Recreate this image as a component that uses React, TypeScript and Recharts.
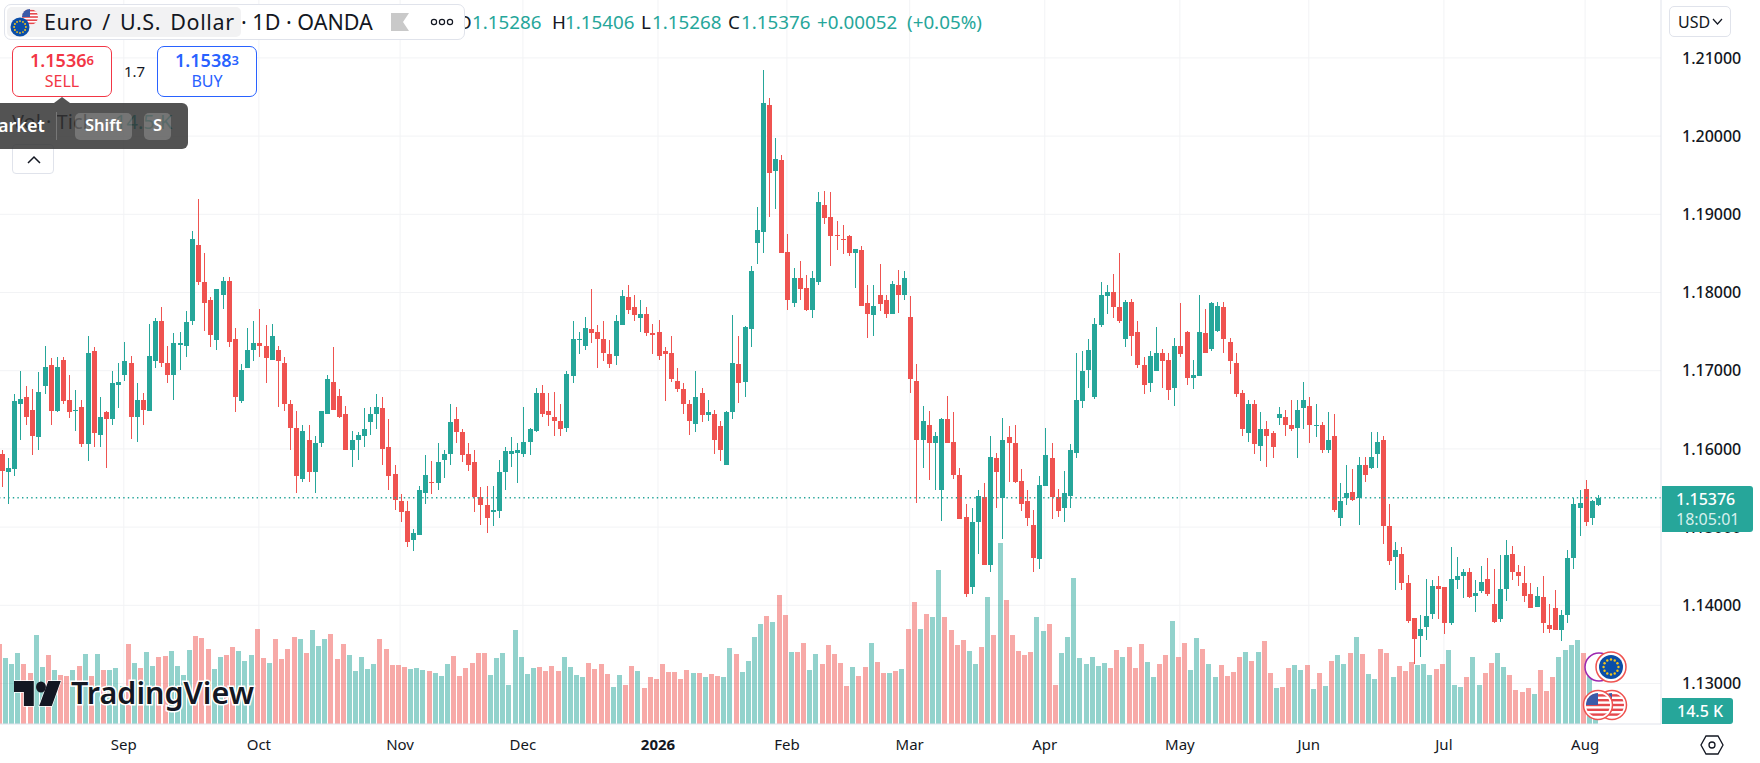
import React from "react";
import { ComposedChart, Bar, XAxis, YAxis, CartesianGrid, ReferenceLine } from "recharts";

const opens = [
1.1593,1.1570,1.1574,1.1657,1.1666,1.1650,1.1615,1.1680,1.1707,1.1649,
1.1714,1.1662,1.1648,1.1654,1.1606,1.1725,1.1618,1.1647,1.1638,1.1682,
1.1695,1.1710,1.1641,1.1663,1.1649,1.1713,1.1763,1.1710,1.1695,1.1733,
1.1732,1.1763,1.1861,1.1814,1.1790,1.1739,1.1797,1.1815,1.1740,1.1661,
1.1703,1.1727,1.1736,1.1732,1.1714,1.1727,1.1710,1.1658,1.1627,1.1561,
1.1612,1.1570,1.1607,1.1645,1.1686,1.1668,1.1644,1.1599,1.1612,1.1616,
1.1635,1.1645,1.1652,1.1602,1.1568,1.1533,1.1521,1.1483,1.1490,1.1544,
1.1558,1.1556,1.1586,1.1593,1.1638,1.1621,1.1593,1.1583,1.1539,1.1528,
1.1519,1.1521,1.1570,1.1593,1.1595,1.1593,1.1609,1.1623,1.1672,1.1648,
1.1641,1.1636,1.1627,1.1693,1.1739,1.1732,1.1753,1.1749,1.1741,1.1721,
1.1719,1.1758,1.1794,1.1781,1.1768,1.1772,1.1748,1.1750,1.1725,1.1722,
1.1687,1.1676,1.1658,1.1632,1.1671,1.1643,1.1644,1.1629,1.1580,1.1647,
1.1708,1.1686,1.1753,1.1863,1.1877,1.2040,1.1956,1.1970,1.1852,1.1787,
1.1819,1.1806,1.1777,1.1813,1.1912,1.1896,1.1873,1.1869,1.1872,1.1850,
1.1854,1.1786,1.1771,1.1797,1.1790,1.1773,1.1810,1.1797,1.1769,1.1687,
1.1612,1.1631,1.1608,1.1548,1.1638,1.1609,1.1567,1.1513,1.1423,1.1506,
1.1539,1.1451,1.1589,1.1537,1.1615,1.1607,1.1559,1.1533,1.1503,1.1459,
1.1553,1.1589,1.1539,1.1524,1.1540,1.1595,1.1661,1.1701,1.1666,1.1758,
1.1796,1.1801,1.1781,1.1740,1.1788,1.1749,1.1707,1.1684,1.1699,1.1723,
1.1714,1.1678,1.1731,1.1749,1.1691,1.1693,1.1748,1.1728,1.1751,1.1782,
1.1737,1.1710,1.1671,1.1620,1.1657,1.1604,1.1625,1.1620,1.1639,1.1641,
1.1630,1.1627,1.1652,1.1655,1.1630,1.1631,1.1599,1.1616,1.1511,1.1537,
1.1545,1.1537,1.1579,1.1575,1.1593,1.1611,1.1502,1.1462,1.1465,1.1428,
1.1384,1.1361,1.1372,1.1389,1.1425,1.1423,1.1377,1.1432,1.1438,1.1442,
1.1412,1.1418,1.1433,1.1402,1.1383,1.1421,1.1465,1.1442,1.1428,1.1415,
1.1398,1.1411,1.1375,1.1396,1.1368,1.1387,1.1460,1.1525,1.1549,1.1511,1.15286];

const highs = [
1.1598,1.1589,1.1670,1.1700,1.1680,1.1676,1.1698,1.1731,1.1716,1.1717,
1.1717,1.1694,1.1675,1.1663,1.1744,1.1730,1.1666,1.1649,1.1699,1.1710,
1.1737,1.1719,1.1684,1.1671,1.1760,1.1767,1.1781,1.1732,1.1748,1.1749,
1.1776,1.1879,1.1920,1.1850,1.1794,1.1804,1.1820,1.1820,1.1755,1.1708,
1.1755,1.1763,1.1779,1.1759,1.1760,1.1732,1.1717,1.1662,1.1649,1.1631,
1.1631,1.1616,1.1649,1.1695,1.1730,1.1676,1.1655,1.1623,1.1621,1.1652,
1.1653,1.1670,1.1667,1.1638,1.1579,1.1542,1.1534,1.1498,1.1553,1.1592,
1.1584,1.1607,1.1598,1.1657,1.1654,1.1625,1.1608,1.1598,1.1551,1.1553,
1.1552,1.1586,1.1602,1.1615,1.1608,1.1653,1.1627,1.1678,1.1682,1.1672,
1.1673,1.1658,1.1700,1.1764,1.1750,1.1769,1.1805,1.1759,1.1764,1.1739,
1.1771,1.1803,1.1809,1.1797,1.1790,1.1781,1.1760,1.1765,1.1730,1.1744,
1.1704,1.1684,1.1663,1.1699,1.1678,1.1663,1.1650,1.1636,1.1648,1.1771,
1.1744,1.1757,1.1834,1.1909,1.2084,1.2049,1.1998,1.1976,1.1875,1.1831,
1.1840,1.1823,1.1827,1.1928,1.1930,1.1929,1.1891,1.1886,1.1874,1.1856,
1.1859,1.1809,1.1809,1.1836,1.1797,1.1815,1.1829,1.1828,1.1796,1.1708,
1.1655,1.1648,1.1622,1.1639,1.1668,1.1647,1.1575,1.1530,1.1525,1.1548,
1.1556,1.1617,1.1595,1.1640,1.1629,1.1631,1.1574,1.1548,1.1522,1.1565,
1.1627,1.1607,1.1549,1.1572,1.1606,1.1723,1.1725,1.1740,1.1767,1.1813,
1.1809,1.1824,1.1850,1.1791,1.1792,1.1764,1.1717,1.1725,1.1756,1.1728,
1.1722,1.1742,1.1786,1.1751,1.1714,1.1797,1.1779,1.1788,1.1788,1.1788,
1.1742,1.1722,1.1675,1.1662,1.1663,1.1647,1.1636,1.1623,1.1654,1.1650,
1.1662,1.1662,1.1686,1.1666,1.1657,1.1634,1.1647,1.1645,1.1556,1.1579,
1.1574,1.1590,1.1590,1.1622,1.1621,1.1617,1.1529,1.1481,1.1474,1.1439,
1.1384,1.1388,1.1434,1.1432,1.1437,1.1424,1.1474,1.1462,1.1446,1.1448,
1.1432,1.1450,1.1461,1.1446,1.1464,1.1483,1.1476,1.1452,1.1450,1.1429,
1.1423,1.1437,1.1402,1.1419,1.1394,1.1471,1.1537,1.1548,1.1560,1.1535,1.15406];

const lows = [
1.1551,1.1529,1.1565,1.1612,1.1630,1.1592,1.1599,1.1670,1.1631,1.1647,
1.1657,1.1640,1.1623,1.1602,1.1584,1.1603,1.1603,1.1575,1.1630,1.1652,
1.1687,1.1613,1.1609,1.1631,1.1649,1.1704,1.1705,1.1684,1.1662,1.1701,
1.1717,1.1758,1.1809,1.1751,1.1730,1.1727,1.1779,1.1730,1.1647,1.1659,
1.1703,1.1713,1.1717,1.1684,1.1714,1.1653,1.1649,1.1599,1.1543,1.1558,
1.1558,1.1543,1.1603,1.1644,1.1650,1.1639,1.1598,1.1577,1.1586,1.1602,
1.1618,1.1626,1.1579,1.1548,1.1522,1.1506,1.1474,1.1469,1.1490,1.1530,
1.1542,1.1548,1.1563,1.1580,1.1607,1.1583,1.1572,1.1519,1.1503,1.1492,
1.1502,1.1512,1.1548,1.1577,1.1556,1.1590,1.1592,1.1622,1.1641,1.1629,
1.1617,1.1616,1.1622,1.1684,1.1721,1.1727,1.1736,1.1704,1.1713,1.1703,
1.1707,1.1758,1.1773,1.1763,1.1750,1.1744,1.1721,1.1714,1.1661,1.1685,
1.1673,1.1644,1.1618,1.1622,1.1635,1.1636,1.1594,1.1585,1.1579,1.1638,
1.1659,1.1667,1.1730,1.1836,1.1851,1.1897,1.1907,1.1850,1.1777,1.1781,
1.1791,1.1776,1.1767,1.1810,1.1888,1.1834,1.1854,1.1849,1.1847,1.1806,
1.1783,1.1742,1.1744,1.1776,1.1767,1.1772,1.1774,1.1790,1.1672,1.1531,
1.1575,1.1560,1.1547,1.1508,1.1607,1.1561,1.1510,1.1411,1.1415,1.1466,
1.1451,1.1443,1.1525,1.1485,1.1558,1.1556,1.1520,1.1502,1.1443,1.1447,
1.1553,1.1510,1.1513,1.1506,1.1525,1.1589,1.1652,1.1678,1.1664,1.1756,
1.1773,1.1768,1.1761,1.1730,1.1719,1.1704,1.1670,1.1673,1.1699,1.1678,
1.1662,1.1655,1.1717,1.1682,1.1677,1.1693,1.1723,1.1725,1.1749,1.1723,
1.1696,1.1667,1.1617,1.1609,1.1593,1.1584,1.1577,1.1589,1.1630,1.1617,
1.1623,1.1588,1.1626,1.1608,1.1615,1.1595,1.1595,1.1519,1.1501,1.1528,
1.1534,1.1503,1.1558,1.1574,1.1575,1.1479,1.1452,1.1419,1.1419,1.1377,
1.1325,1.1334,1.1355,1.1382,1.1383,1.1363,1.1375,1.1421,1.1409,1.1409,
1.1392,1.1416,1.1412,1.1378,1.1379,1.1406,1.1432,1.1425,1.1404,1.1397,
1.1398,1.1364,1.1365,1.1368,1.1354,1.1377,1.1446,1.1488,1.1501,1.1503,1.15268];

const closes = [
1.1572,1.1576,1.1661,1.1664,1.1641,1.1616,1.1673,1.1705,1.1648,1.1705,
1.1661,1.1647,1.1650,1.1606,1.1723,1.1620,1.1641,1.1638,1.1684,1.1686,
1.1712,1.1641,1.1662,1.1650,1.1719,1.1764,1.1710,1.1694,1.1736,1.1736,
1.1762,1.1868,1.1813,1.1786,1.1746,1.1804,1.1815,1.1737,1.1666,1.1701,
1.1727,1.1735,1.1731,1.1716,1.1744,1.1713,1.1658,1.1627,1.1565,1.1623,
1.1570,1.1608,1.1648,1.1689,1.1650,1.1641,1.1599,1.1611,1.1618,1.1626,
1.1645,1.1653,1.1600,1.1565,1.1535,1.1519,1.1481,1.1493,1.1548,1.1567,
1.1557,1.1583,1.1594,1.1635,1.1621,1.1592,1.1580,1.1538,1.1528,1.1512,
1.1522,1.1570,1.1597,1.1597,1.1599,1.1609,1.1626,1.1672,1.1644,1.1643,
1.1636,1.1626,1.1696,1.1740,1.1741,1.1755,1.1748,1.1740,1.1723,1.1709,
1.1763,1.1795,1.1777,1.1771,1.1773,1.1748,1.1746,1.1719,1.1721,1.1689,
1.1676,1.1658,1.1636,1.1667,1.1643,1.1647,1.1612,1.1598,1.1647,1.1710,
1.1684,1.1756,1.1828,1.1880,1.2042,1.1953,1.1971,1.1850,1.1790,1.1819,
1.1805,1.1778,1.1818,1.1916,1.1895,1.1872,1.1872,1.1868,1.1851,1.1855,
1.1783,1.1772,1.1783,1.1785,1.1773,1.1811,1.1797,1.1818,1.1690,1.1612,
1.1636,1.1608,1.1617,1.1638,1.1608,1.1566,1.1510,1.1415,1.1506,1.1540,
1.1451,1.1590,1.1571,1.1612,1.1607,1.1558,1.1529,1.1511,1.1461,1.1554,
1.1592,1.1539,1.1521,1.1544,1.1598,1.1663,1.1700,1.1726,1.1760,1.1797,
1.1800,1.1782,1.1763,1.1788,1.1744,1.1707,1.1682,1.1719,1.1722,1.1712,
1.1675,1.1732,1.1721,1.1691,1.1694,1.1749,1.1723,1.1786,1.1783,1.1740,
1.1713,1.1670,1.1625,1.1657,1.1606,1.1626,1.1617,1.1602,1.1644,1.1631,
1.1625,1.1650,1.1663,1.1631,1.1631,1.1598,1.1612,1.1522,1.1533,1.1544,
1.1535,1.1580,1.1566,1.1590,1.1609,1.1501,1.1457,1.1471,1.1428,1.1380,
1.1357,1.1370,1.1386,1.1425,1.1421,1.1378,1.1434,1.1438,1.1442,1.1411,
1.1416,1.1430,1.1414,1.1379,1.1421,1.1464,1.1442,1.1438,1.1412,1.1397,
1.1412,1.1377,1.1370,1.1368,1.1387,1.1460,1.1529,1.1531,1.1507,1.1533,1.15376];

const volumesK = [
89,74,67,79,67,57,99,64,77,60,
55,54,60,65,78,54,78,60,60,62,
42,89,68,62,80,65,75,76,81,65,
55,83,98,96,84,61,75,77,86,81,
70,77,106,74,68,95,72,84,97,95,
79,105,87,95,100,72,89,77,59,75,
61,67,95,84,66,66,64,61,62,60,
59,57,54,67,76,54,62,68,79,79,
55,74,79,44,105,75,56,62,64,59,
65,59,75,64,55,52,68,61,67,56,
41,55,43,65,59,40,52,50,67,58,
58,50,60,57,57,52,56,54,52,85,
78,58,70,97,112,120,114,144,122,80,
80,90,60,78,67,88,78,68,42,64,
54,64,90,69,57,57,59,61,106,136,
106,123,119,172,119,105,88,94,81,67,
86,142,99,202,138,99,81,77,80,119,
104,112,44,79,97,163,74,67,75,65,
68,62,83,75,86,62,89,69,52,67,
77,115,75,90,60,96,84,67,52,66,
54,58,75,80,70,80,93,57,40,41,
62,66,60,66,39,57,42,70,77,67,
79,97,78,56,50,84,79,52,65,59,
69,66,67,55,61,67,83,44,41,52,
75,43,57,68,79,64,55,38,36,40,
34,60,37,52,75,83,88,94,79,71,14.5];

const priceTicks = [1.13, 1.14, 1.15, 1.16, 1.17, 1.18, 1.19, 1.2, 1.21];
const monthTicks = [20, 42, 65, 85, 107, 128, 148, 170, 192, 213, 235, 258];
const monthLabels = ["Sep", "Oct", "Nov", "Dec", "2026", "Feb", "Mar", "Apr", "May", "Jun", "Jul", "Aug"];
const lastPrice = 1.15376;

const rows = opens.map((o, i) => ({
  i, o, h: highs[i], l: lows[i], c: closes[i], v: volumesK[i], range: [lows[i], highs[i]],
}));

const UP = "#26a69a";
const DOWN = "#ef5350";
const FONT = "'Noto Sans', 'Open Sans', sans-serif";

function Candle(props: any) {
  const { x, y, width, height, payload } = props;
  const { o, h, l, c } = payload;
  const color = c >= o ? UP : DOWN;
  const k = h > l ? height / (h - l) : 0;
  const top = Math.round(y + (h - Math.max(o, c)) * k);
  const bot = Math.round(y + (h - Math.min(o, c)) * k);
  const left = Math.round(x + width / 2 - 2.5);
  return (
    <g shapeRendering="crispEdges">
      <rect x={left + 2} y={y} width={1} height={Math.max(height, 1)} fill={color} />
      <rect x={left} y={top} width={5} height={Math.max(bot - top, 1)} fill={color} />
    </g>
  );
}

function VolumeBar(props: any) {
  const { x, y, width, height, payload } = props;
  const color = payload.c >= payload.o ? "rgba(38,166,154,0.5)" : "rgba(239,83,80,0.5)";
  return <rect x={Math.round(x + width / 2 - 2.5)} y={y} width={5} height={height} fill={color} shapeRendering="crispEdges" />;
}

function MonthTick(props: any) {
  const { x, payload } = props;
  const label = monthLabels[monthTicks.indexOf(payload.value)];
  return (
    <text x={x} y={750} textAnchor="middle" fontFamily={FONT} fontSize={15} fontWeight={label === "2026" ? 700 : 400} fill="#131722">
      {label}
    </text>
  );
}

const box: React.CSSProperties = { position: "absolute", boxSizing: "border-box", fontFamily: FONT, whiteSpace: "nowrap" };

function Txt({ x, y, size, color, weight, children, w, align, extra }: any) {
  return (
    <div style={{ ...box, left: x, top: y, fontSize: size, color, fontWeight: weight || 400, lineHeight: 1, width: w, textAlign: align, ...extra }}>
      {children}
    </div>
  );
}

function EuFlag({ cx, cy, r }: any) {
  const stars = [0, 1, 2, 3, 4, 5, 6, 7, 8, 9, 10, 11];
  return (
    <g>
      <circle cx={cx} cy={cy} r={r} fill="#0a4ea8" />
      {stars.map((s) => (
        <circle key={s} cx={cx + Math.cos((s * Math.PI) / 6) * r * 0.62} cy={cy + Math.sin((s * Math.PI) / 6) * r * 0.62} r={r * 0.1} fill="#f5c518" />
      ))}
    </g>
  );
}

function UsFlag({ cx, cy, r, id }: any) {
  const stripes = [-0.8, -0.4, 0, 0.4, 0.8];
  return (
    <g>
      <clipPath id={id}>
        <circle cx={cx} cy={cy} r={r} />
      </clipPath>
      <g clipPath={`url(#${id})`}>
        <rect x={cx - r} y={cy - r} width={r * 2} height={r * 2} fill="#fff" />
        {stripes.map((s) => (
          <rect key={s} x={cx - r} y={cy + s * r - r * 0.1} width={r * 2} height={r * 0.2} fill="#e5484d" />
        ))}
        <rect x={cx - r} y={cy - r} width={r} height={r} fill="#3c5aa8" />
      </g>
    </g>
  );
}

export default function App() {
  return (
    <div style={{ position: "fixed", left: 0, top: 0, width: 1760, height: 763, background: "#fff", overflow: "hidden" }}>
      <ComposedChart width={1760} height={763} data={rows} margin={{ top: 0, right: 0, bottom: 0, left: 0 }} barCategoryGap={0} barGap={0}>
        <CartesianGrid stroke="#f2f3f5" horizontalValues={priceTicks} verticalValues={monthTicks} />
        <XAxis
          dataKey="i" type="number" domain={[-0.163, 270.36]} allowDataOverflow ticks={monthTicks} interval={0}
          height={39} tick={<MonthTick />} tickLine={false} axisLine={{ stroke: "#e0e3eb" }}
        />
        <YAxis
          orientation="right" width={99} domain={[1.124821, 1.217404]} allowDataOverflow ticks={priceTicks} interval={0}
          tickFormatter={(v: number) => v.toFixed(5)} tickLine={false} tickMargin={15}
          axisLine={{ stroke: "#e0e3eb" }} tick={{ fontFamily: FONT, fontSize: 16, fontWeight: 500, fill: "#131722" }}
        />
        <YAxis yAxisId="vol" hide domain={[0, 807.3]} allowDataOverflow />
        <Bar yAxisId="vol" dataKey="v" barSize={5} isAnimationActive={false} shape={<VolumeBar />} />
        <ReferenceLine y={lastPrice} stroke={UP} strokeWidth={1.4} strokeDasharray="1.4 3.2" />
        <Bar dataKey="range" barSize={5} isAnimationActive={false} shape={<Candle />} />
      </ComposedChart>

      {/* OHLC legend, its first letter runs under the header box */}
      <Txt x={457} y={13} size={18.8} color="#131722">O</Txt>
      <Txt x={472} y={13} size={18.8} color={UP}>1.15286</Txt>
      <Txt x={552} y={13} size={18.8} color="#131722">H</Txt>
      <Txt x={565} y={13} size={18.8} color={UP}>1.15406</Txt>
      <Txt x={641} y={13} size={18.8} color="#131722">L</Txt>
      <Txt x={652} y={13} size={18.8} color={UP}>1.15268</Txt>
      <Txt x={728} y={13} size={18.8} color="#131722">C</Txt>
      <Txt x={741} y={13} size={18.8} color={UP}>1.15376</Txt>
      <Txt x={817} y={13} size={18.8} color={UP}>+0.00052</Txt>
      <Txt x={907} y={13} size={18.8} color={UP}>(+0.05%)</Txt>

      {/* Header */}
      <div style={{ ...box, left: 4, top: 4, width: 461, height: 36, background: "#fff", border: "1px solid #e0e3eb", borderRadius: 7 }} />
      <div style={{ ...box, left: 7, top: 7, width: 234, height: 30, background: "#f2f2f3", borderRadius: 5 }} />
      <svg style={{ position: "absolute", left: 0, top: 0 }} width={60} height={42}>
        <UsFlag cx={30} cy={17} r={8} id="usHead" />
        <EuFlag cx={20} cy={27} r={9.5} />
      </svg>
      <Txt x={44} y={11} size={21.5} color="#131722" extra={{ letterSpacing: 0.6, wordSpacing: 3 }}>Euro / U.S. Dollar</Txt>
      <Txt x={241} y={11} size={21.5} color="#131722">· 1D · OANDA</Txt>
      <svg style={{ position: "absolute", left: 390, top: 12 }} width={70} height={22}>
        <path d="M1 1H19L13 10L19 19H1Z" fill="#c9c9c9" />
        <circle cx={44} cy={10} r={2.6} fill="none" stroke="#131722" strokeWidth={1.2} />
        <circle cx={52} cy={10} r={2.6} fill="none" stroke="#131722" strokeWidth={1.2} />
        <circle cx={60} cy={10} r={2.6} fill="none" stroke="#131722" strokeWidth={1.2} />
      </svg>

      {/* Sell / Buy */}
      <div style={{ ...box, left: 12, top: 46, width: 100, height: 51, background: "#fff", border: "1px solid #f23645", borderRadius: 7 }} />
      <Txt x={12} y={51} w={100} align="center" size={18} weight={600} color="#f23645">1.1536<span style={{ fontSize: 13, verticalAlign: 2 }}>6</span></Txt>
      <Txt x={12} y={73} w={100} align="center" size={16} color="#f23645">SELL</Txt>
      <Txt x={124} y={64} size={15} color="#131722">1.7</Txt>
      <div style={{ ...box, left: 157, top: 46, width: 100, height: 51, background: "#fff", border: "1px solid #2962ff", borderRadius: 7 }} />
      <Txt x={157} y={51} w={100} align="center" size={18} weight={600} color="#2962ff">1.1538<span style={{ fontSize: 13, verticalAlign: 2 }}>3</span></Txt>
      <Txt x={157} y={73} w={100} align="center" size={16} color="#2962ff">BUY</Txt>

      {/* Shortcut tooltip */}
      <Txt x={12} y={112} size={20} color="#131722">Vol · Tick</Txt>
      <Txt x={115} y={112} size={20} color={UP}>14.5 K</Txt>
      <div style={{ ...box, left: 12, top: 144, width: 42, height: 30, background: "#fff", border: "1px solid #e0e3eb", borderRadius: 4 }} />
      <svg style={{ position: "absolute", left: 26, top: 155 }} width={16} height={10}>
        <path d="M2 8L8 2L14 8" fill="none" stroke="#131722" strokeWidth={1.5} />
      </svg>
      <div style={{ ...box, left: 0, top: 103, width: 188, height: 46, background: "rgba(50,50,50,0.84)", borderRadius: "0 6px 6px 0" }} />
      <svg style={{ position: "absolute", left: 54, top: 97 }} width={16} height={6}>
        <path d="M0 6L8 0L16 6Z" fill="rgba(50,50,50,0.84)" />
      </svg>
      <div style={{ ...box, left: 56, top: 112, width: 1, height: 28, background: "#777" }} />
      <Txt x={-2} y={116} size={18} weight={600} color="#fff">arket</Txt>
      <div style={{ ...box, left: 75, top: 113, width: 57, height: 27, background: "rgba(255,255,255,0.2)", borderRadius: 5 }} />
      <Txt x={75} y={117} w={57} align="center" size={16.5} weight={600} color="#fff">Shift</Txt>
      <div style={{ ...box, left: 144, top: 113, width: 27, height: 27, background: "rgba(255,255,255,0.2)", borderRadius: 5 }} />
      <Txt x={144} y={117} w={27} align="center" size={16.5} weight={600} color="#fff">S</Txt>

      {/* USD */}
      <div style={{ ...box, left: 1669, top: 6, width: 62, height: 31, background: "#fff", border: "1px solid #e0e3eb", borderRadius: 5 }} />
      <Txt x={1678} y={14} size={16} color="#131722">USD</Txt>
      <svg style={{ position: "absolute", left: 1712, top: 18 }} width={12} height={8}>
        <path d="M1 1L5.5 6L10 1" fill="none" stroke="#131722" strokeWidth={1.2} />
      </svg>

      {/* Last price and volume labels */}
      <div style={{ ...box, left: 1662, top: 486, width: 91, height: 46, background: UP, borderRadius: "0 3px 3px 0" }} />
      <Txt x={1676} y={491} size={16} weight={500} color="#fff">1.15376</Txt>
      <Txt x={1676} y={511} size={16} color="#d6f0ed">18:05:01</Txt>
      <div style={{ ...box, left: 1662, top: 698, width: 71, height: 26, background: UP, borderRadius: "0 3px 3px 0" }} />
      <Txt x={1677} y={703} size={16} weight={500} color="#fff">14.5 K</Txt>

      {/* Settings icon */}
      <svg style={{ position: "absolute", left: 1700, top: 734 }} width={24} height={22}>
        <path d="M6 2H18L23 11L18 20H6L1 11Z" fill="none" stroke="#131722" strokeWidth={1.3} />
        <circle cx={12} cy={11} r={3} fill="none" stroke="#131722" strokeWidth={1.3} />
      </svg>

      {/* Event flags */}
      <svg style={{ position: "absolute", left: 1575, top: 645 }} width={56} height={80}>
        <circle cx={24} cy={22} r={14} fill="#fff" stroke="#9c27b0" strokeWidth={1.5} />
        <circle cx={36} cy={22} r={15} fill="#fff" stroke="#ef5350" strokeWidth={1.5} />
        <EuFlag cx={36} cy={22} r={12} />
        <circle cx={37} cy={60} r={14.5} fill="#fff" stroke="#ef5350" strokeWidth={1.5} />
        <UsFlag cx={37} cy={60} r={12} id="us2" />
        <circle cx={23} cy={60} r={14.5} fill="#fff" stroke="#ef5350" strokeWidth={1.5} />
        <UsFlag cx={23} cy={60} r={12} id="us1" />
      </svg>

      {/* Watermark */}
      <svg style={{ position: "absolute", left: 14, top: 680 }} width={52} height={28}>
        <g transform="scale(0.9,1)">
          <path d="M0 1H22V26H11V12H0Z M38 1H52L42 26H28Z" fill="#131722" stroke="#fff" strokeWidth={1.5} paintOrder="stroke" />
          <circle cx={30} cy={7} r={5.5} fill="#131722" />
        </g>
      </svg>
      <div style={{ ...box, left: 71, top: 674, fontSize: 30.5, fontWeight: 600, color: "#131722", lineHeight: "36px", WebkitTextStroke: "3px #fff", paintOrder: "stroke fill" as any }}>
        TradingView
      </div>
    </div>
  );
}
